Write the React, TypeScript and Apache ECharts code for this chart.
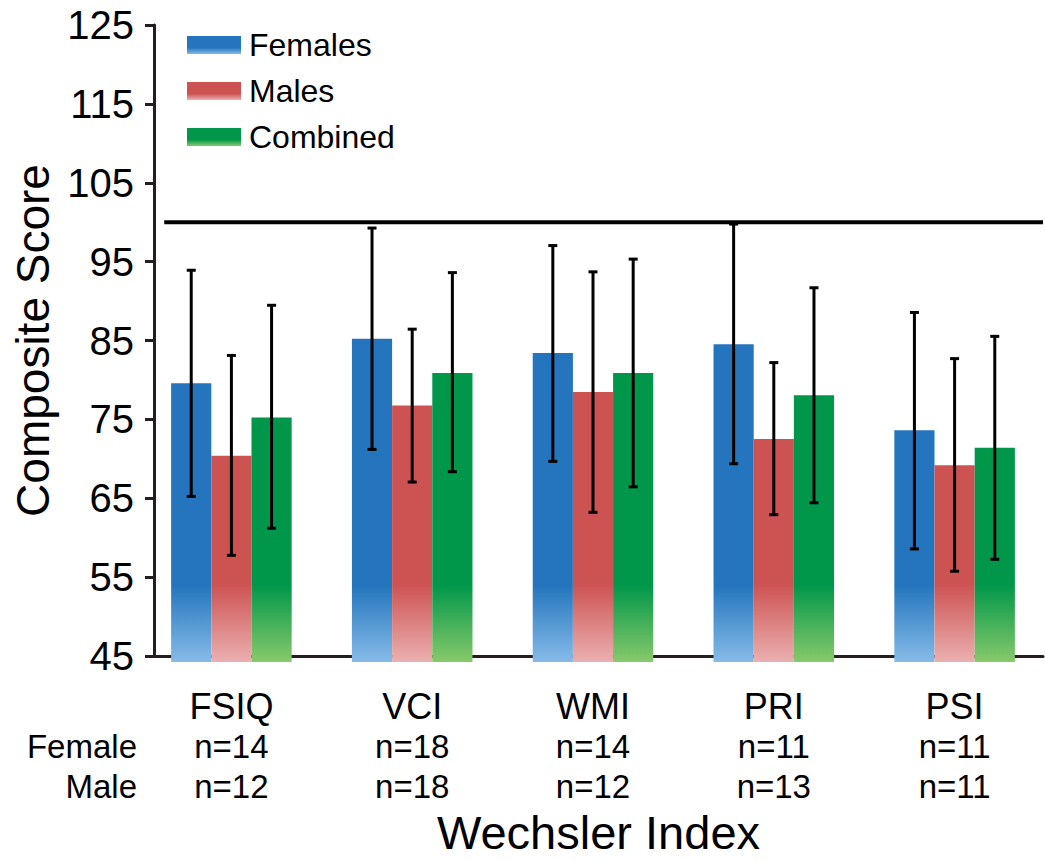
import React, { useEffect, useRef } from "react";
import * as echarts from "echarts";

// ---- data ----
const categories = ["FSIQ", "VCI", "WMI", "PRI", "PSI"];
const femaleN = [14, 18, 14, 11, 11];
const maleN = [12, 18, 12, 13, 11];
const seriesNames = ["Females", "Males", "Combined"];

const femalesMean = [80.0, 85.6, 83.8, 84.9, 74.1];
const femalesLow = [65.8, 71.7, 70.2, 69.9, 59.2];
const femalesHigh = [94.2, 99.5, 97.3, 100.0, 88.9];

const malesMean = [70.9, 77.2, 78.9, 73.0, 69.7];
const malesLow = [58.4, 67.6, 63.8, 63.5, 56.4];
const malesHigh = [83.5, 86.8, 94.0, 82.6, 83.1];

const combinedMean = [75.7, 81.3, 81.3, 78.5, 71.9];
const combinedLow = [61.8, 68.9, 67.0, 65.0, 57.9];
const combinedHigh = [89.8, 93.9, 95.6, 92.0, 85.9];

const yMin = 45;
const yMax = 125;
const yStep = 10;
const referenceScore = 100;
const referenceStart = 0.0115; // fraction of the plot width where the reference line begins

// ---- style ----
const FONT = "'Liberation Sans', Arial, Helvetica, sans-serif";
const AXIS_COLOR = "#231f20";
const palette = [
  { top: "#2475bd", bottom: "#86bbe8" },
  { top: "#cd5353", bottom: "#ebb0b0" },
  { top: "#00974a", bottom: "#88c96b" },
];
const BAR_CAT_GAP = 1 / 3;

const barGradient = (p: { top: string; bottom: string }) => ({
  type: "linear",
  x: 0,
  y: 585,
  x2: 0,
  y2: 662,
  global: true,
  colorStops: [
    { offset: 0, color: p.top },
    { offset: 1, color: p.bottom },
  ],
});

const legendGradient = (p: { top: string; bottom: string }) => ({
  type: "linear",
  x: 0,
  y: 0,
  x2: 0,
  y2: 1,
  colorStops: [
    { offset: 0, color: p.top },
    { offset: 0.65, color: p.top },
    { offset: 1, color: p.bottom },
  ],
});

const means = [femalesMean, malesMean, combinedMean];
const lows = [femalesLow, malesLow, combinedLow];
const highs = [femalesHigh, malesHigh, combinedHigh];

function errorSeries(k: number) {
  return {
    type: "custom",
    name: seriesNames[k] + " error",
    xAxisIndex: 1,
    yAxisIndex: 1,
    z: 6,
    silent: true,
    encode: { x: 0, y: [1, 2] },
    data: lows[k].map((l, i) => [i, l, highs[k][i]]),
    renderItem: (params: any, api: any) => {
      const i = api.value(0);
      const lo = api.coord([i, api.value(1)]);
      const hi = api.coord([i, api.value(2)]);
      const band = api.size([1, 0])[0];
      const bw = (band * (1 - BAR_CAT_GAP)) / 3;
      const x = lo[0] + (k - 1) * bw;
      const cap = 4.5;
      const st = { stroke: "#000", lineWidth: 3 };
      return {
        type: "group",
        children: [
          { type: "line", shape: { x1: x, y1: hi[1], x2: x, y2: lo[1] }, style: st },
          { type: "line", shape: { x1: x - cap, y1: hi[1], x2: x + cap, y2: hi[1] }, style: st },
          { type: "line", shape: { x1: x - cap, y1: lo[1], x2: x + cap, y2: lo[1] }, style: st },
        ],
      };
    },
  };
}

export default function App() {
  const ref = useRef<HTMLDivElement>(null);

  useEffect(() => {
    if (!ref.current) return;
    const chart = echarts.init(ref.current, null, { renderer: "svg" });

    const option: any = {
      animation: false,
      backgroundColor: "#ffffff",
      textStyle: { fontFamily: FONT },
      legend: {
        orient: "vertical",
        left: 187,
        top: 29,
        padding: 0,
        itemWidth: 54,
        itemHeight: 18,
        itemGap: 14,
        icon: "rect",
        selectedMode: false,
        textStyle: { fontSize: 32, lineHeight: 32, color: "#000", fontFamily: FONT, padding: [0, 0, 0, 3] },
        data: seriesNames.map((n, k) => ({
          name: n,
          itemStyle: { color: legendGradient(palette[k]) },
        })),
      },
      grid: [
        { left: 154, right: 2, top: 25, bottom: 199 },
        { left: 141, width: 927, top: 25, bottom: 199 },
      ],
      xAxis: [
        {
          gridIndex: 0,
          type: "value",
          min: 0,
          max: 1,
          axisLine: { show: true, lineStyle: { color: AXIS_COLOR, width: 3 } },
          axisTick: { show: false },
          axisLabel: { show: false },
          splitLine: { show: false },
          name: "Wechsler Index",
          nameLocation: "middle",
          nameGap: 153,
          nameTextStyle: { fontSize: 47, color: "#000", fontFamily: FONT },
        },
        {
          gridIndex: 1,
          type: "category",
          data: categories,
          axisLine: { show: false },
          axisTick: { show: false },
          axisLabel: {
            margin: 24,
            color: "#000",
            fontFamily: FONT,
            formatter: (v: string, i: number) =>
              `{c|${v}}\n{n|n=${femaleN[i]}}\n{n|n=${maleN[i]}}`,
            rich: {
              c: { fontSize: 36, lineHeight: 40, color: "#000", fontFamily: FONT },
              n: { fontSize: 33, lineHeight: 40, color: "#000", fontFamily: FONT },
            },
          },
        },
      ],
      yAxis: [
        {
          gridIndex: 0,
          type: "value",
          min: yMin,
          max: yMax,
          interval: yStep,
          axisLine: { show: true, lineStyle: { color: AXIS_COLOR, width: 3 } },
          axisTick: { show: true, length: 9, lineStyle: { color: AXIS_COLOR, width: 3 } },
          axisLabel: { fontSize: 40, color: "#000", margin: 20, fontFamily: FONT },
          splitLine: { show: false },
          name: "Composite Score",
          nameLocation: "middle",
          nameGap: 93,
          nameTextStyle: { fontSize: 46, color: "#000", fontFamily: FONT },
        },
        {
          gridIndex: 1,
          type: "value",
          min: yMin,
          max: yMax,
          interval: yStep,
          show: false,
        },
      ],
      graphic: [
        {
          type: "text",
          x: 137,
          y: 746,
          style: {
            text: "Female",
            fontSize: 33,
            fill: "#000",
            fontFamily: FONT,
            textAlign: "right",
            textVerticalAlign: "middle",
            verticalAlign: "middle",
          },
        },
        {
          type: "text",
          x: 137,
          y: 786,
          style: {
            text: "Male",
            fontSize: 33,
            fill: "#000",
            fontFamily: FONT,
            textAlign: "right",
            textVerticalAlign: "middle",
            verticalAlign: "middle",
          },
        },
      ],
      series: [
        ...seriesNames.map((n, k) => ({
          type: "bar",
          name: n,
          xAxisIndex: 1,
          yAxisIndex: 1,
          barGap: "0%",
          barCategoryGap: "33.33%",
          itemStyle: { color: barGradient(palette[k]) },
          data: means[k],
          z: 2,
        })),
        errorSeries(0),
        errorSeries(1),
        errorSeries(2),
        {
          type: "line",
          name: "reference",
          xAxisIndex: 0,
          yAxisIndex: 0,
          symbol: "none",
          silent: true,
          z: 8,
          lineStyle: { color: "#000", width: 4 },
          data: [
            [referenceStart, referenceScore],
            [1, referenceScore],
          ],
        },
      ],
    };

    chart.setOption(option);
    return () => chart.dispose();
  }, []);

  return (
    <div
      ref={ref}
      style={{ position: "fixed", left: 0, top: 0, width: 1045, height: 861, background: "#fff" }}
    />
  );
}
